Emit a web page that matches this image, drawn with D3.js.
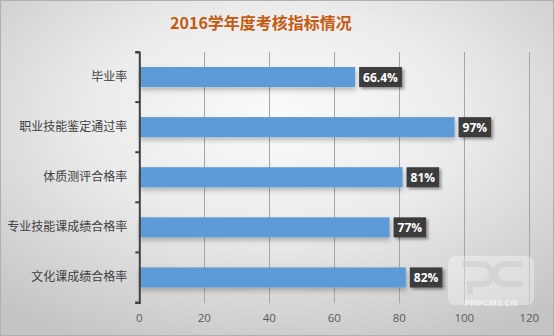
<!DOCTYPE html>
<html><head><meta charset="utf-8">
<script src="https://cdn.jsdelivr.net/npm/d3@7/dist/d3.min.js"></script>
<style>html,body{margin:0;padding:0;overflow:hidden;background:#fff}</style>
</head><body>
<svg id="c" width="554" height="336"></svg>
<script>
const title = "2016学年度考核指标情况";
const categories = ["毕业率","职业技能鉴定通过率","体质测评合格率","专业技能课成绩合格率","文化课成绩合格率"];
const values = [66.4, 97, 81, 77, 82];
const valueLabels = ["66.4%","97%","81%","77%","82%"];
const xTicks = [0,20,40,60,80,100,120];

const W = 554, H = 336;
const svg = d3.select("#c");
const defs = svg.append("defs");

const rg = defs.append("radialGradient").attr("id","bg").attr("cx","50%").attr("cy","35%").attr("r","75%");
rg.append("stop").attr("offset","0%").attr("stop-color","#fbfbfb");
rg.append("stop").attr("offset","45%").attr("stop-color","#ebebeb");
rg.append("stop").attr("offset","100%").attr("stop-color","#c4c4c4");

const pat = defs.append("pattern").attr("id","dots").attr("width",4).attr("height",4).attr("patternUnits","userSpaceOnUse");
pat.append("rect").attr("width",4).attr("height",4).attr("fill","#3b3b3b");
pat.append("rect").attr("x",1).attr("y",1).attr("width",1).attr("height",1).attr("fill","#4e4e4e");

const sh = defs.append("filter").attr("id","sh").attr("x","-20%").attr("y","-40%").attr("width","150%").attr("height","200%");
sh.append("feDropShadow").attr("dx",1).attr("dy",3).attr("stdDeviation",2.5).attr("flood-color","#000").attr("flood-opacity",0.25);
const sh2 = defs.append("filter").attr("id","sh2").attr("x","-20%").attr("y","-40%").attr("width","150%").attr("height","200%");
sh2.append("feDropShadow").attr("dx",2).attr("dy",2).attr("stdDeviation",1.5).attr("flood-color","#000").attr("flood-opacity",0.4);

svg.append("rect").attr("width",W).attr("height",H).attr("fill","url(#bg)");
svg.append("rect").attr("x",0.5).attr("y",0.5).attr("width",W-1).attr("height",H-1).attr("fill","none").attr("stroke","#b0b0b0");

svg.append("text").attr("x",261).attr("y",29).attr("text-anchor","middle")
  .attr("font-family","'Noto Sans CJK SC', sans-serif").attr("font-weight","bold").attr("font-size",16)
  .attr("fill","#c55a11").text(title);

const x = d3.scaleLinear().domain([0,120]).range([139.3,529.3]);
const y = d3.scaleBand().domain(categories).range([52,302.5]).paddingInner(0.6).paddingOuter(0.3);

// gridlines
svg.append("g").selectAll("line").data(xTicks.slice(1)).join("line")
  .attr("x1",d=>x(d)).attr("x2",d=>x(d)).attr("y1",52).attr("y2",302.5)
  .attr("stroke","#a6a6a6").attr("stroke-width",1).attr("shape-rendering","crispEdges");

// x tick labels
svg.append("g").selectAll("text").data(xTicks).join("text")
  .attr("x",d=>x(d)).attr("y",322).attr("text-anchor","middle")
  .attr("font-family","'Open Sans','DejaVu Sans',sans-serif").attr("font-size",11.5)
  .attr("fill","#595959").text(d=>d);

// bars
svg.append("g").selectAll("rect").data(categories).join("rect")
  .attr("x",x(0)).attr("y",d=>y(d)).attr("width",(d,i)=>x(values[i])-x(0)).attr("height",y.bandwidth())
  .attr("fill","#5b9bd5").attr("filter","url(#sh)");

// y axis
const yAxisScale = d3.scaleBand().domain(categories).range([52,302.5]);
const ax = svg.append("g").attr("transform",`translate(${x(0)},0)`)
  .call(d3.axisLeft(yAxisScale).tickSize(4).tickPadding(9).tickSizeOuter(4));
ax.select(".domain").attr("stroke","#404040").attr("stroke-width",2);
ax.selectAll(".tick line").attr("stroke","#404040").attr("stroke-width",2).attr("transform",`translate(0,${-yAxisScale.bandwidth()/2})`);
ax.append("line").attr("x1",-4).attr("x2",0).attr("y1",302.5).attr("y2",302.5).attr("stroke","#404040").attr("stroke-width",2);
ax.selectAll(".tick text").attr("font-family","'Noto Sans CJK SC',sans-serif").attr("font-size",12).attr("fill","#404040").attr("x",-12);

// value labels
const lg = svg.append("g");
categories.forEach((c,i)=>{
  const g = lg.append("g");
  const bx = x(values[i]) + 4;
  const t = g.append("text").attr("font-family","'Open Sans','DejaVu Sans',sans-serif").attr("font-weight","bold")
    .attr("font-size",12).attr("fill","#ffffff").text(valueLabels[i]);
  const tw = t.node().getComputedTextLength();
  g.insert("rect","text").attr("x",bx).attr("y",y(c)).attr("width",tw+8).attr("height",y.bandwidth())
    .attr("fill","url(#dots)").attr("filter","url(#sh2)");
  t.attr("x",bx+4).attr("y",y(c)+y.bandwidth()/2+4.5);
});

// watermark
const wm = svg.append("g");
wm.append("rect").attr("x",448).attr("y",256).attr("width",86).attr("height",49).attr("rx",7)
  .attr("fill","#ffffff").attr("opacity",0.35);
wm.append("path").attr("d","M462,264 h20 a10,10 0 0 1 0,20 h-12 v10 M505,264 h18 M505,264 a10,10 0 0 0 0,20 h18")
  .attr("fill","none").attr("stroke","#c8c8c8").attr("stroke-width",6).attr("opacity",0.5);
wm.append("text").attr("x",491).attr("y",305.5).attr("text-anchor","middle")
  .attr("font-family","'Open Sans',sans-serif").attr("font-size",9).attr("font-weight","bold")
  .attr("fill","#ffffff").attr("opacity",0.6).text("PHPCMS.CN");
</script>
</body></html>
